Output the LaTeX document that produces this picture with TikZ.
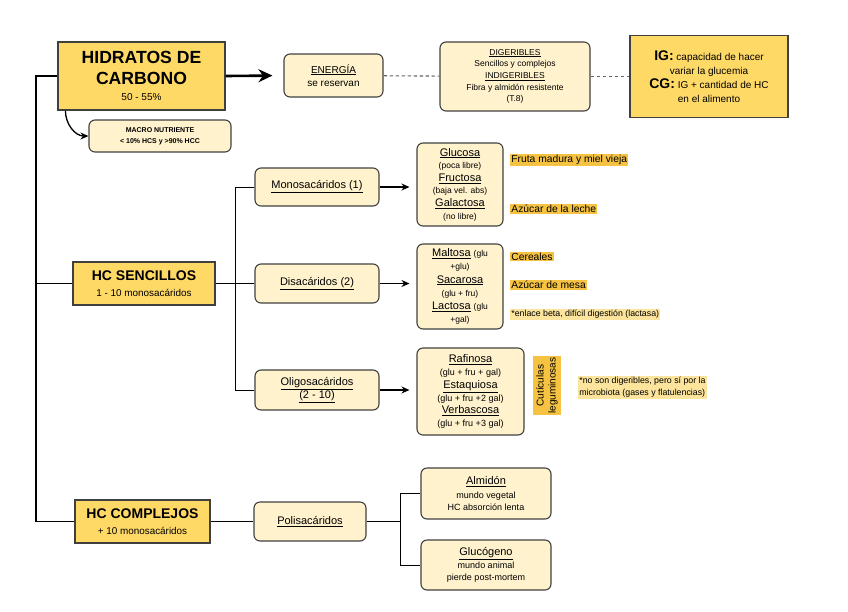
\documentclass[tikz,border=0pt]{standalone}
\usepackage{fontspec}
\setmainfont{Liberation Sans}
\usepackage{xcolor}
\usetikzlibrary{arrows.meta, positioning}
\definecolor{boxGold}{HTML}{FFD966}
\definecolor{boxPale}{HTML}{FFF2CC}
\definecolor{markGold}{HTML}{F5C242}
\definecolor{markPale}{HTML}{FCE49C}
\definecolor{edgeGray}{HTML}{404040}

% size change that keeps the node's line spacing
\newcommand{\fsz}[1]{\fontsize{#1}{\baselineskip}\selectfont}
\newcommand{\setfs}[2]{\fontsize{#1}{#2}\selectfont}

\begin{document}
\begin{tikzpicture}[
    x=1pt, y=-1pt,
    every node/.style={align=center, inner sep=1pt},
    gold/.style={draw=edgeGray, line width=1.2pt, fill=boxGold},
    pale/.style={draw=edgeGray, line width=1.1pt, fill=boxPale, rounded corners=6pt},
    hilite/.style={fill=markGold, inner sep=1.2pt, anchor=west, font=\setfs{10.3}{12}},
    note/.style={fill=markPale, inner sep=1.2pt, anchor=west, font=\setfs{8.8}{12}, align=left},
    link/.style={draw=edgeGray!80, line width=1.1pt, dash pattern=on 3.5pt off 2.5pt},
    trunk/.style={line width=1.6pt},
    branch/.style={line width=0.8pt},
    >=Stealth
  ]
  \useasboundingbox (0,0) rectangle (848,611);

  % ── Top row ─────────────────────────────────────────────────────────────
  \node[gold, minimum width=167pt, minimum height=68pt, font=\setfs{17.6}{21}\bfseries] (hc) at (141.5, 76)
    {HIDRATOS DE\\CARBONO\\[-5pt]\fsz{10}\mdseries 50 - 55\%};
  \node[pale, minimum width=99pt, minimum height=43pt, font=\setfs{10}{13.5}] (energia) at (333.5, 75.5)
    {\underline{ENERGÍA}\\se reservan};
  \node[pale, minimum width=150pt, minimum height=69pt, font=\setfs{8.5}{11.7}] (digest) at (515, 76.5)
    {\underline{DIGERIBLES}\\Sencillos y complejos\\\underline{INDIGERIBLES}\\Fibra y almidón resistente\\(T.8)};
  \node[gold, minimum width=158pt, minimum height=82pt, font=\setfs{10}{14}] (indice) at (709, 76.5)
    {\textbf{\fsz{14}IG:} capacidad de hacer\\variar la glucemia\\\textbf{\fsz{14}CG:} IG + cantidad de HC\\en el alimento};
  \node[pale, minimum width=142pt, minimum height=32pt, font=\setfs{7}{11}\bfseries] (macro) at (160, 136)
    {MACRO NUTRIENTE\\< 10\% HCS y >90\% HCC};

  \draw[-{Stealth[length=14pt, width=13pt]}, line width=2.6pt, shorten >=11pt] (hc.east) -- (energia.west);
  \draw[link] (energia) -- (digest);
  \draw[link] (digest) -- (indice);
  \draw[-{Stealth[length=8pt, width=7pt]}, line width=1.3pt] ([xshift=8pt]hc.south west) to[out=-90, in=180] (macro.west);

  % ── HC sencillos ────────────────────────────────────────────────────────
  \node[gold, minimum width=142pt, minimum height=43pt, font=\setfs{14}{16}\bfseries] (sencillos) at (144, 283.5)
    {HC SENCILLOS\\\fsz{9.9}\mdseries 1 - 10 monosacáridos};
  \node[pale, minimum width=124pt, minimum height=38pt, font=\setfs{11}{13}] (mono) at (317, 187)
    {\underline{Monosacáridos (1)}};
  \node[pale, minimum width=124pt, minimum height=39pt, font=\setfs{11}{13}] (disac) at (317, 283.5)
    {\underline{Disacáridos (2)}};
  \node[pale, minimum width=124pt, minimum height=40pt, font=\setfs{11}{13}] (oligo) at (317, 390)
    {\underline{Oligosacáridos}\\\underline{(2 - 10)}};

  \node[pale, minimum width=86pt, minimum height=83pt, font=\setfs{11}{12.6}] (glucosa) at (460, 184.5)
    {\underline{Glucosa}\\\fsz{8.5}(poca libre)\\\underline{Fructosa}\\\fsz{8.5}(baja vel. abs)\\\underline{Galactosa}\\\fsz{8.5}(no libre)};
  \node[pale, minimum width=86pt, minimum height=85pt, font=\setfs{11}{13.2}] (maltosa) at (460, 286.5)
    {\underline{Maltosa} \fsz{8.5}(glu\\\fsz{8.5}+glu)\\\underline{Sacarosa}\\\fsz{8.5}(glu + fru)\\\underline{Lactosa} \fsz{8.5}(glu\\\fsz{8.5}+gal)};
  \node[pale, minimum width=107pt, minimum height=87pt, font=\setfs{11}{12.9}] (rafinosa) at (470.5, 391.5)
    {\underline{Rafinosa}\\\fsz{9}(glu + fru + gal)\\\underline{Estaquiosa}\\\fsz{9}(glu + fru +2 gal)\\\underline{Verbascosa}\\\fsz{9}(glu + fru +3 gal)};
  \node[fill=markGold, rotate=90, minimum width=59pt, minimum height=28pt, font=\setfs{10}{12}] (cuticula) at (547, 385.5)
    {Cutículas\\leguminosas};

  \node[hilite] (fruta) at (510, 159.5) {Fruta madura y miel vieja};
  \node[hilite] (leche) at (510, 209) {Azúcar de la leche};
  \node[hilite] (cereal) at (510, 256.5) {Cereales};
  \node[hilite] (mesa) at (510, 285) {Azúcar de mesa};
  \node[note] (enlace) at (510, 314.5) {*enlace beta, difícil digestión (lactasa)};
  \node[note] (flatul) at (578, 387.5)
    {*no son digeribles, pero sí por la\\microbiota (gases y flatulencias)};

  \coordinate (fork) at (235, 283.5);
  \draw[branch] (sencillos.east) -- (disac.west);
  \draw[branch] (mono.west) -- (mono.west -| fork) -- (oligo.west -| fork) -- (oligo.west);
  \foreach \src/\dst in {mono/glucosa, disac/maltosa, oligo/rafinosa}
    \draw[-{Stealth[length=8pt, width=7pt]}, line width=1.3pt, shorten >=7pt] (\src.east) -- (\src.east -| \dst.west);

  % ── HC complejos ────────────────────────────────────────────────────────
  \node[gold, minimum width=135pt, minimum height=43pt, font=\setfs{14}{16}\bfseries] (complejos) at (142.5, 521.5)
    {HC COMPLEJOS\\\fsz{9.9}\mdseries + 10 monosacáridos};
  \node[pale, minimum width=112pt, minimum height=39pt, font=\setfs{11}{13}] (polisac) at (310, 521.5)
    {\underline{Polisacáridos}};
  \node[pale, minimum width=130pt, minimum height=51pt, font=\setfs{11}{12}] (almidon) at (486, 493.5)
    {\underline{Almidón}\\[1.5pt]\fsz{9}mundo vegetal\\\fsz{9}HC absorción lenta};
  \node[pale, minimum width=130pt, minimum height=50pt, font=\setfs{11}{12}] (glucogeno) at (486, 565)
    {\underline{Glucógeno}\\[1.5pt]\fsz{9}mundo animal\\\fsz{9}pierde post-mortem};

  \coordinate (split) at (400, 521.5);
  \draw[branch] (complejos) -- (polisac);
  \draw[branch] (polisac.east) -- (split);
  \draw[branch] (almidon.west) -- (almidon.west -| split) -- (glucogeno.west -| split) -- (glucogeno.west);

  % ── Main trunk ──────────────────────────────────────────────────────────
  \coordinate (spine) at (36, 76);
  \draw[trunk] (hc.west) -- (spine) |- (complejos.west);
  \draw[trunk] (sencillos.west) -- (sencillos.west -| spine);

\end{tikzpicture}
\end{document}
